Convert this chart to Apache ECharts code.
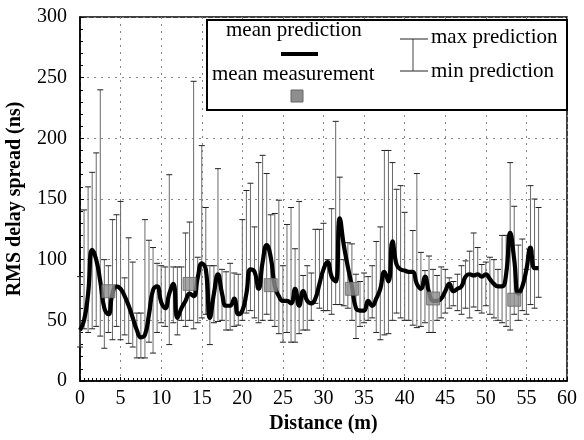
<!DOCTYPE html>
<html>
<head>
<meta charset="utf-8">
<script src="https://cdn.jsdelivr.net/npm/echarts@6/dist/echarts.min.js"></script>
<style>
  html, body { margin: 0; padding: 0; background: #fff; }
  #chart { width: 584px; height: 440px; }
</style>
</head>
<body>
<div id="chart"></div>
<script>
// distance (m), one error bar every 0.5 m
const dist = [];
for (let i = 0; i <= 113; i++) dist.push(i * 0.5);

const maxPred = [
  86, 141, 160, 172, 188, 240, 100, 95, 133, 137,
  148, 85, 118, 98, 56, 56, 133, 116, 110, 97,
  95, 94, 170, 94, 94, 94, 122, 131, 247, 102,
  194, 143, 95, 95, 175, 92, 90, 97, 89, 88,
  133, 157, 163, 127, 180, 186, 171, 137, 138, 149,
  95, 129, 143, 109, 148, 87, 95, 89, 125, 125,
  130, 100, 142, 214, 168, 100, 114, 113, 88, 82,
  89, 86, 95, 115, 127, 190, 190, 180, 158, 161,
  139, 90, 124, 171, 106, 91, 103, 92, 87, 94,
  92, 85, 82, 88, 95, 99, 107, 122, 110, 96,
  98, 102, 100, 92, 120, 120, 180, 144, 112, 117,
  92, 161, 150, 143
];
const minPred = [
  28, 43, 40, 43, 45, 37, 27, 40, 34, 45,
  34, 38, 31, 28, 19, 19, 19, 32, 23, 40,
  48, 45, 30, 48, 38, 50, 45, 50, 43, 48,
  52, 55, 30, 48, 49, 50, 42, 42, 45, 46,
  50, 56, 58, 52, 48, 50, 55, 50, 45, 39,
  32, 40, 32, 32, 39, 42, 42, 50, 64, 60,
  58, 58, 55, 63, 63, 62, 60, 50, 35, 45,
  48, 50, 52, 40, 34, 38, 39, 50, 56, 52,
  50, 50, 46, 44, 45, 48, 40, 40, 50, 52,
  56, 60, 62, 58, 55, 60, 52, 61, 58, 56,
  62, 55, 52, 50, 48, 45, 42, 55, 50, 58,
  55, 63, 60, 69
];
const meanPred = [
  42, 50, 72, 108, 100, 82, 60, 55, 72, 78,
  76, 70, 62, 52, 42, 36, 38, 55, 75, 78,
  65, 60, 72, 80, 52, 60, 66, 72, 70, 85,
  97, 92, 52, 72, 88, 72, 62, 62, 68, 55,
  58, 72, 92, 90, 76, 98, 112, 102, 78, 70,
  66, 66, 64, 76, 62, 74, 66, 64, 68, 80,
  92, 98, 86, 82, 134, 112, 94, 78, 60, 58,
  58, 66, 62, 68, 76, 90, 82, 115, 96, 92,
  91, 90, 90, 80, 76, 86, 73, 66, 66, 68,
  74, 80, 74, 76, 78, 86, 88, 87, 88, 86,
  88, 84, 80, 78, 78, 88, 122, 100, 72, 78,
  92, 110, 93, 93
];

// mean measurement
const measDist = [3.5, 13.5, 23.5, 33.5, 43.5, 53.5];
const measVal = [74, 80, 79, 76, 68, 67];

const xTicks = [0, 5, 10, 15, 20, 25, 30, 35, 40, 45, 50, 55, 60];

const serif = '"Liberation Serif", "Times New Roman", serif';

const myChart = echarts.init(document.getElementById('chart'));

const option = {
  backgroundColor: '#fff',
  animation: false,
  grid: {
    left: 80, right: 17, top: 17, bottom: 59,
    containLabel: false,
    outerBoundsMode: 'none',
    show: true, borderColor: '#000', borderWidth: 1.5
  },
  xAxis: {
    type: 'value',
    min: xTicks[0],
    max: xTicks[xTicks.length - 1],
    interval: 5,
    name: 'Distance (m)',
    nameLocation: 'middle',
    nameGap: 33,
    nameTextStyle: { fontFamily: serif, fontWeight: 'bold', fontSize: 20, color: '#000' },
    axisLine: { lineStyle: { color: '#000', width: 1.5 } },
    axisTick: { inside: true, length: 4, lineStyle: { color: '#000' } },
    minorTick: { show: true, splitNumber: 10, length: 3, lineStyle: { color: '#000' } },
    axisLabel: { fontFamily: serif, fontSize: 20, color: '#000', margin: 8 },
    splitLine: { show: true, lineStyle: { color: '#888', type: [2, 5], width: 1 } }
  },
  yAxis: {
    type: 'value',
    min: 0,
    max: 300,
    interval: 50,
    name: 'RMS delay spread (ns)',
    nameLocation: 'middle',
    nameGap: 55,
    nameTextStyle: { fontFamily: serif, fontWeight: 'bold', fontSize: 20, color: '#000' },
    axisLine: { lineStyle: { color: '#000', width: 1.5 } },
    axisTick: { inside: true, length: 4, lineStyle: { color: '#000' } },
    minorTick: { show: true, splitNumber: 5, length: 3, lineStyle: { color: '#000' } },
    axisLabel: { fontFamily: serif, fontSize: 20, color: '#000', margin: 13 },
    splitLine: { show: true, lineStyle: { color: '#888', type: [2, 5], width: 1 } }
  },
  series: [
    {
      name: 'max/min prediction',
      type: 'custom',
      z: 2,
      renderItem: function (params, api) {
        const x = api.value(0);
        const hi = api.coord([x, api.value(1)]);
        const lo = api.coord([x, api.value(2)]);
        const w = 3;
        return {
          type: 'group',
          children: [
            { type: 'line', shape: { x1: hi[0], y1: hi[1], x2: lo[0], y2: lo[1] },
              style: { stroke: '#6a6a6a', lineWidth: 1 } },
            { type: 'line', shape: { x1: hi[0] - w, y1: hi[1], x2: hi[0] + w, y2: hi[1] },
              style: { stroke: '#222', lineWidth: 1 } },
            { type: 'line', shape: { x1: lo[0] - w, y1: lo[1], x2: lo[0] + w, y2: lo[1] },
              style: { stroke: '#222', lineWidth: 1 } }
          ]
        };
      },
      encode: { x: 0, y: [1, 2] },
      data: dist.map((d, i) => [d, maxPred[i], minPred[i]])
    },
    {
      name: 'mean prediction',
      type: 'line',
      z: 4,
      smooth: 0.5,
      symbol: 'none',
      lineStyle: { color: '#000', width: 4.2 },
      data: dist.map((d, i) => [d, meanPred[i]])
    },
    {
      name: 'mean measurement',
      type: 'scatter',
      z: 5,
      symbol: 'rect',
      symbolSize: 13,
      itemStyle: {
        color: '#8e8e8e',
        borderColor: '#666',
        borderWidth: 1
      },
      data: measDist.map((d, i) => [d, measVal[i]])
    }
  ],
  graphic: [
    { type: 'rect', z: 10, shape: { x: 207, y: 20, width: 360, height: 90 },
      style: { fill: '#fff', stroke: '#000', lineWidth: 2 } },
    { type: 'text', z: 11, left: 226, top: 20,
      style: { text: 'mean prediction', font: '21px ' + serif, fill: '#000' } },
    { type: 'line', z: 11, shape: { x1: 281, y1: 54, x2: 318, y2: 54 },
      style: { stroke: '#000', lineWidth: 4 } },
    { type: 'text', z: 11, left: 212, top: 64,
      style: { text: 'mean measurement', font: '21px ' + serif, fill: '#000' } },
    { type: 'rect', z: 11, shape: { x: 291, y: 90, width: 12, height: 12 },
      style: { fill: '#8e8e8e', stroke: '#666', lineWidth: 1 } },
    { type: 'line', z: 11, shape: { x1: 413, y1: 39, x2: 413, y2: 71 },
      style: { stroke: '#444', lineWidth: 1 } },
    { type: 'line', z: 11, shape: { x1: 400, y1: 39, x2: 428, y2: 39 },
      style: { stroke: '#222', lineWidth: 1 } },
    { type: 'line', z: 11, shape: { x1: 400, y1: 71, x2: 428, y2: 71 },
      style: { stroke: '#222', lineWidth: 1 } },
    { type: 'text', z: 11, left: 431, top: 27,
      style: { text: 'max prediction', font: '21px ' + serif, fill: '#000' } },
    { type: 'text', z: 11, left: 431, top: 61,
      style: { text: 'min prediction', font: '21px ' + serif, fill: '#000' } }
  ]
};

myChart.setOption(option);
</script>
</body>
</html>
